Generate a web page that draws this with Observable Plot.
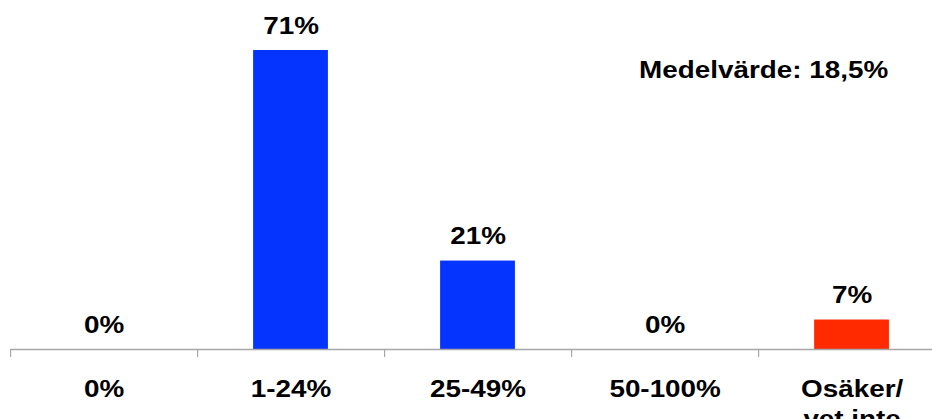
<!DOCTYPE html>
<html><head><meta charset="utf-8">
<script src="https://cdn.jsdelivr.net/npm/d3@7"></script>
<script src="https://cdn.jsdelivr.net/npm/@observablehq/plot@0.6"></script>
<style>html,body{margin:0;padding:0;background:#fff} #chart svg{display:block}</style>
</head><body><div id="chart"></div>
<script>
const categories = ["0%", "1-24%", "25-49%", "50-100%", "Osäker/\nvet inte"];
const values = [0, 71, 21, 0, 7];
const valueLabels = ["0%", "71%", "21%", "0%", "7%"];
const groups = ["svar", "svar", "svar", "svar", "osäker"];
const annotation = "Medelvärde: 18,5%";

const data = categories.map((c, i) => ({category: c, index: i, value: values[i], label: valueLabels[i], group: groups[i]}));

const OUT_W = 932, H = 419, SX = 1.1606;
const W = Math.round(OUT_W / SX);
const step = 187 / SX;
const left = 10 / SX;
const font = "'Liberation Sans', Arial, Helvetica, sans-serif";

const chart = Plot.plot({
  width: W, height: H,
  marginLeft: left, marginRight: 0, marginTop: 0, marginBottom: 70,
  style: {fontFamily: font, color: "#a6a6a6", background: "white"},
  x: {type: "linear", domain: [0, categories.length], range: [left, left + step * categories.length],
      ticks: d3.range(categories.length), tickSize: 8, tickFormat: () => "", label: null},
  y: {domain: [0, 71], range: [349, 50], axis: null},
  color: {domain: ["svar", "osäker"], range: ["#0533ff", "#ff2a00"]},
  marks: [
    Plot.rectY(data, {x1: "index", x2: d => d.index + 1, y: "value", fill: "group",
                      insetLeft: step * 0.3, insetRight: step * 0.3}),
    Plot.ruleY([0], {stroke: "#a6a6a6", strokeWidth: 1.5}),
    Plot.text(data, {x: d => d.index + 0.5, y: "value", text: "label", lineAnchor: "bottom", dy: -17,
                     fill: "black", fontSize: 24, fontWeight: "bold"}),
    Plot.text(data, {x: d => d.index + 0.5, y: () => 0, text: "category", lineAnchor: "top", dy: 26,
                     lineHeight: 1.25, fill: "black", fontSize: 24, fontWeight: "bold"}),
    Plot.text([annotation], {frameAnchor: "top-right", text: d => d, textAnchor: "middle", lineAnchor: "bottom",
                             dx: -(W - 763 / SX), dy: 77, fill: "black", fontSize: 24, fontWeight: "bold"})
  ]
});
chart.setAttribute("width", OUT_W);
chart.setAttribute("preserveAspectRatio", "none");
chart.style.maxWidth = "none";
document.getElementById("chart").appendChild(chart);
</script>
</body></html>
